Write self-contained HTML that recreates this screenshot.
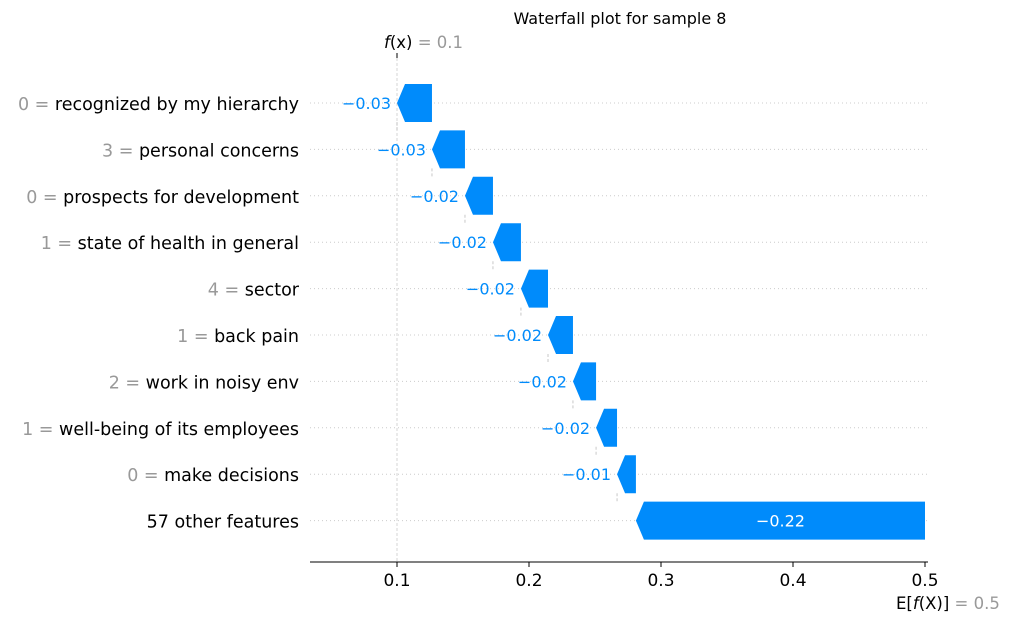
<!DOCTYPE html>
<html><head><meta charset="utf-8">
<style>
html,body{margin:0;padding:0;background:#fff;}
svg{display:block;font-family:"DejaVu Sans","Liberation Sans",sans-serif;}
</style></head>
<body>
<svg id="chart" width="1011" height="622">
<text x="620" y="24" text-anchor="middle" font-size="16" fill="#000">Waterfall plot for sample 8</text>
<g id="grid"></g>
<g id="bars"></g>
<g id="labels"></g>
<g id="axis"></g>
</svg>
<script>
const featureValues = ["0","3","0","1","4","1","2","1","0",""];
const featureNames = ["recognized by my hierarchy","personal concerns","prospects for development","state of health in general","sector","back pain","work in noisy env","well-being of its employees","make decisions","57 other features"];
const shapValues = [-0.0265,-0.025,-0.0212,-0.0212,-0.0205,-0.0189,-0.0175,-0.0159,-0.0143,-0.219];
const valueLabels = ["\u22120.03","\u22120.03","\u22120.02","\u22120.02","\u22120.02","\u22120.02","\u22120.02","\u22120.02","\u22120.01","\u22120.22"];
const xTicks = [0.1,0.2,0.3,0.4,0.5];
const baseValue = 0.5;
const fxLabel = "0.1";
const efxLabel = "0.5";

const NS="http://www.w3.org/2000/svg";
const X=v=>397+(v-0.1)*1320;
const Y=i=>103+i*46.4;
function mk(tag,attrs,parent,text){const e=document.createElementNS(NS,tag);for(const k in attrs)e.setAttribute(k,attrs[k]);if(text!==undefined)e.textContent=text;parent.appendChild(e);return e;}
const grid=document.getElementById('grid'),bars=document.getElementById('bars'),labels=document.getElementById('labels'),axis=document.getElementById('axis');

const n=shapValues.length;
let ends=new Array(n),starts=new Array(n);
let cur=baseValue;
for(let i=n-1;i>=0;i--){starts[i]=cur;cur=cur+shapValues[i];ends[i]=cur;}
const fx=cur;

for(let i=0;i<n;i++){
  const g=mk('line',{x1:310,x2:928,y1:Y(i),y2:Y(i),stroke:'#ccc','stroke-width':1,'stroke-dasharray':'1,3'},grid);
  
  
}
const fl=mk('line',{x1:X(fx),x2:X(fx),y1:58,y2:562,stroke:'#ccc','stroke-width':0.8,'stroke-dasharray':'3,2'},grid);



const h=38;
for(let i=0;i<n;i++){
  const x0=X(starts[i]),x1=X(ends[i]),y=Y(i);
  const w=x0-x1;const head=Math.min(8,w);
  const pts=[[x0,y-h/2],[x1+head,y-h/2],[x1,y],[x1+head,y+h/2],[x0,y+h/2]].map(p=>p.join(',')).join(' ');
  const b=mk('polygon',{points:pts,fill:'#008bfb'},bars);
  
  
  if(i<n-1){
    const c=mk('line',{x1:x1,x2:x1,y1:y+h/2,y2:Y(i+1)-h/2,stroke:'#bbb','stroke-width':0.8,'stroke-dasharray':'3,2'},bars);
    
    
  }
  let t;
  if(w>80){
    t=mk('text',{x:(x0+x1)/2,y:y+6,'text-anchor':'middle','font-size':16,fill:'#fff'},labels,valueLabels[i]);
  } else {
    t=mk('text',{x:x1-6,y:y+6,'text-anchor':'end','font-size':16,fill:'#008bfb'},labels,valueLabels[i]);
  }
  
  
  const ft=mk('text',{x:299,y:y+7,'text-anchor':'end','font-size':17.5,fill:'#000'},labels);
  
  
  if(featureValues[i]!==""){mk('tspan',{fill:'#999'},ft,featureValues[i]+" = ");}
  mk('tspan',{},ft,featureNames[i]);
}
const ax=mk('line',{x1:310,x2:928,y1:562,y2:562,stroke:'#000','stroke-width':1},axis);


for(const v of xTicks){
  const tk=mk('line',{x1:X(v),x2:X(v),y1:562,y2:567,stroke:'#000'},axis);
  
  
  const tl=mk('text',{x:X(v),y:586,'text-anchor':'middle','font-size':17},axis,String(v));
  
  
}
const ftop=mk('line',{x1:X(fx),x2:X(fx),y1:53,y2:58,stroke:'#000'},axis);


const fxt=mk('text',{x:X(fx)-13,y:48,'font-size':16.5},axis);


mk('tspan',{'font-style':'italic'},fxt,'f');mk('tspan',{},fxt,'(x)');mk('tspan',{fill:'#999'},fxt,' = '+fxLabel);
const ef=mk('text',{x:X(baseValue)-29,y:609,'font-size':16.5},axis);


mk('tspan',{},ef,'E[');mk('tspan',{'font-style':'italic'},ef,'f');mk('tspan',{},ef,'(X)]');mk('tspan',{fill:'#999'},ef,' = '+efxLabel);
</script>
</body></html>
